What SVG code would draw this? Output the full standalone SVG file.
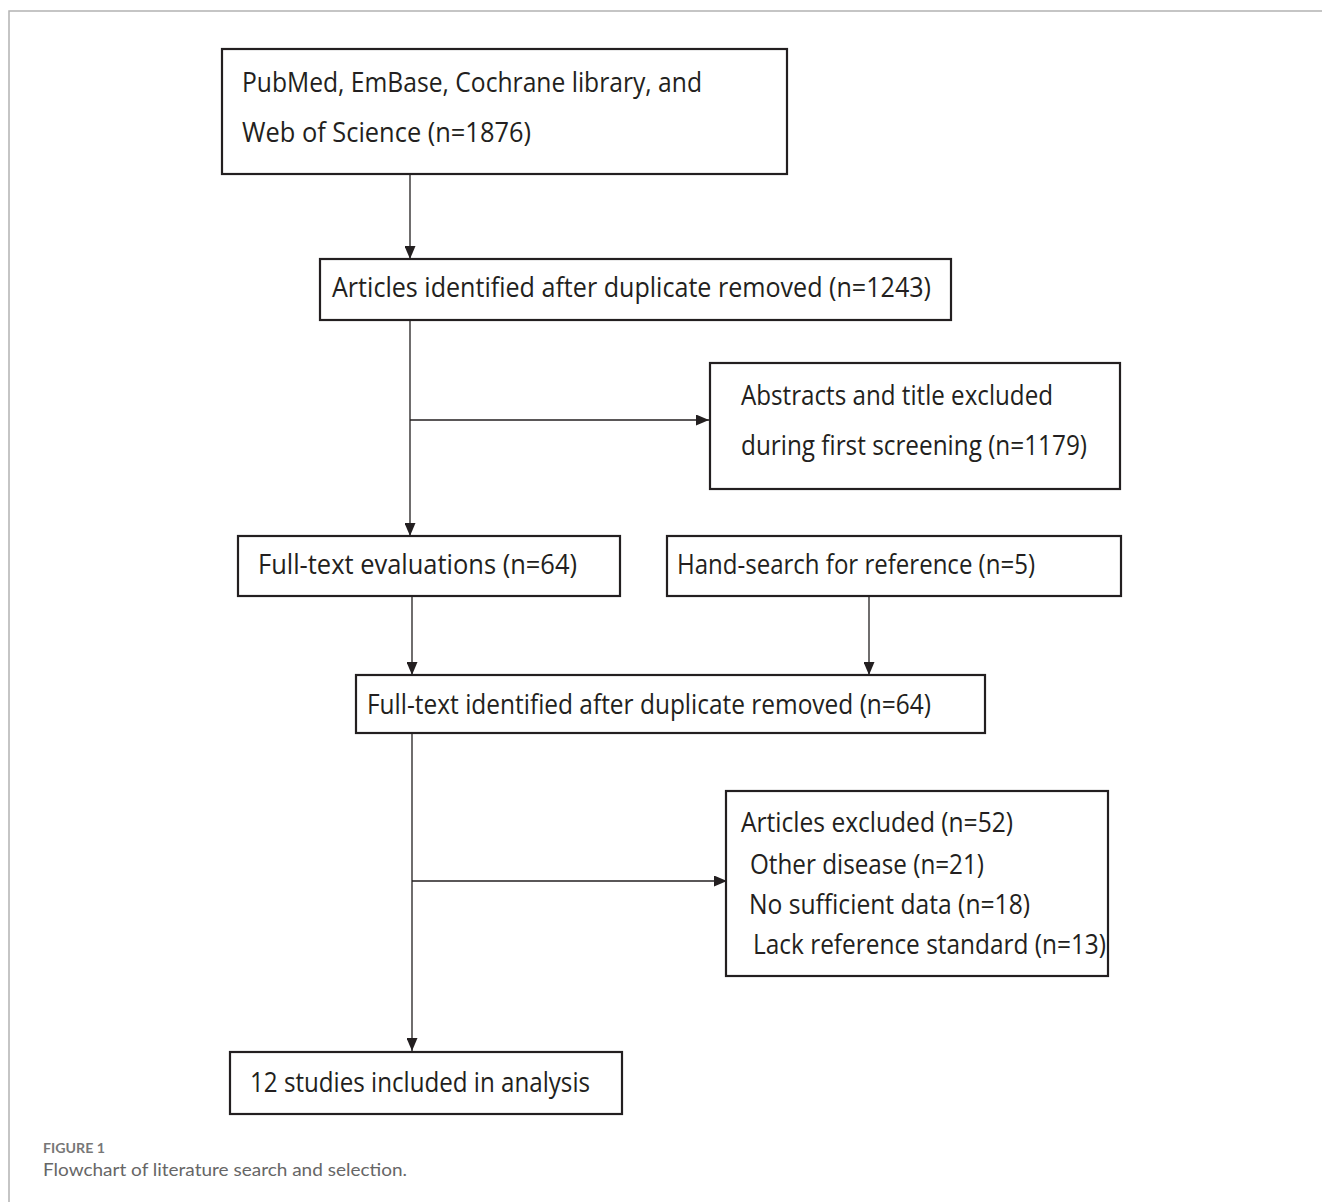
<svg xmlns="http://www.w3.org/2000/svg" width="1322" height="1202" viewBox="0 0 1322 1202">
<style>
.box{fill:#fff;stroke:#231f20;stroke-width:2.2}
.t{font-family:"Open Sans","Liberation Sans",sans-serif;font-size:27.5px;fill:#231f20}
.c{fill:none;stroke:#231f20;stroke-width:1.3}
.frame{fill:none;stroke:#b3b3b3;stroke-width:1.5}
.cap1{font-family:"Lato","Open Sans",sans-serif;font-size:13.5px;fill:#777;font-weight:bold}
.cap2{font-family:"Lato","Open Sans",sans-serif;font-size:18px;fill:#666}
</style>
<defs>
<marker id="ah" viewBox="0 0 13 11" refX="13" refY="5.5" markerWidth="13" markerHeight="11" markerUnits="userSpaceOnUse" orient="auto">
<path d="M0,0 L13,5.5 L0,11 Z" fill="#231f20"/>
</marker>
</defs>
<rect width="1322" height="1202" fill="#fff"/>
<path class="frame" d="M9,1202 V11 H1322"/>
<g id="connectors">
<line class="c" x1="410" y1="175" x2="410" y2="259" marker-end="url(#ah)"/>
<line class="c" x1="410" y1="320" x2="410" y2="536" marker-end="url(#ah)"/>
<line class="c" x1="410" y1="420" x2="709" y2="420" marker-end="url(#ah)"/>
<line class="c" x1="412" y1="597" x2="412" y2="675" marker-end="url(#ah)"/>
<line class="c" x1="869" y1="597" x2="869" y2="675" marker-end="url(#ah)"/>
<line class="c" x1="412" y1="734" x2="412" y2="1051" marker-end="url(#ah)"/>
<line class="c" x1="412" y1="881" x2="727" y2="881" marker-end="url(#ah)"/>
</g>
<g id="n1">
<rect class="box" x="222" y="49" width="565" height="125"/>
<text class="t" x="242" y="92" textLength="460" lengthAdjust="spacingAndGlyphs">PubMed, EmBase, Cochrane library, and</text>
<text class="t" x="242" y="142" textLength="289" lengthAdjust="spacingAndGlyphs">Web of Science (n=1876)</text>
</g>
<g id="n2">
<rect class="box" x="320" y="259" width="631" height="61"/>
<text class="t" x="332" y="297" textLength="599" lengthAdjust="spacingAndGlyphs">Articles identified after duplicate removed (n=1243)</text>
</g>
<g id="n3">
<rect class="box" x="710" y="363" width="410" height="126"/>
<text class="t" x="741" y="405" textLength="312" lengthAdjust="spacingAndGlyphs">Abstracts and title excluded</text>
<text class="t" x="741" y="455" textLength="346" lengthAdjust="spacingAndGlyphs">during first screening (n=1179)</text>
</g>
<g id="n4">
<rect class="box" x="238" y="536" width="382" height="60"/>
<text class="t" x="258" y="574" textLength="319" lengthAdjust="spacingAndGlyphs">Full-text evaluations (n=64)</text>
</g>
<g id="n5">
<rect class="box" x="667" y="536" width="454" height="60"/>
<text class="t" x="677" y="574" textLength="358" lengthAdjust="spacingAndGlyphs">Hand-search for reference (n=5)</text>
</g>
<g id="n6">
<rect class="box" x="356" y="675" width="629" height="58"/>
<text class="t" x="367" y="714" textLength="564" lengthAdjust="spacingAndGlyphs">Full-text identified after duplicate removed (n=64)</text>
</g>
<g id="n7">
<rect class="box" x="726" y="791" width="382" height="185"/>
<text class="t" x="741" y="832" textLength="272" lengthAdjust="spacingAndGlyphs">Articles excluded (n=52)</text>
<text class="t" x="750" y="874" textLength="234" lengthAdjust="spacingAndGlyphs">Other disease (n=21)</text>
<text class="t" x="749" y="914" textLength="281" lengthAdjust="spacingAndGlyphs">No sufficient data (n=18)</text>
<text class="t" x="753" y="954" textLength="353" lengthAdjust="spacingAndGlyphs">Lack reference standard (n=13)</text>
</g>
<g id="n8">
<rect class="box" x="230" y="1052" width="392" height="62"/>
<text class="t" x="250" y="1092" textLength="340" lengthAdjust="spacingAndGlyphs">12 studies included in analysis</text>
</g>
<text class="cap1" x="43" y="1153" textLength="62" lengthAdjust="spacingAndGlyphs">FIGURE 1</text>
<text class="cap2" x="43" y="1176" textLength="364" lengthAdjust="spacingAndGlyphs">Flowchart of literature search and selection.</text>
</svg>
